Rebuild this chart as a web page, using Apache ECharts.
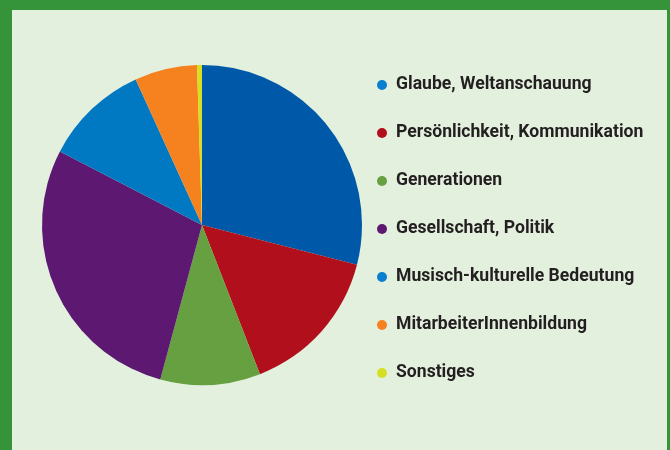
<!DOCTYPE html>
<html>
<head>
<meta charset="utf-8">
<script src="https://cdn.jsdelivr.net/npm/echarts@6/dist/echarts.min.js"></script>
<style>
  html, body { margin: 0; padding: 0; background: #35943a; }
  #chart { width: 670px; height: 450px; }
</style>
</head>
<body>
<div id="chart"></div>
<script>
// Themen und Anteile (in Prozent, aus dem Bild geschätzt)
const themen = [
    'Glaube, Weltanschauung',
    'Persönlichkeit, Kommunikation',
    'Generationen',
    'Gesellschaft, Politik',
    'Musisch-kulturelle Bedeutung',
    'MitarbeiterInnenbildung',
    'Sonstiges'
];
const anteile = [29.0, 15.1, 10.1, 28.4, 10.6, 6.3, 0.5];
const farben = ['#0059a8', '#b10f1b', '#66a040', '#5d1971', '#0079c2', '#f5821f', '#d7df23'];
const legendenFarben = ['#0a7fcf', '#b10f1b', '#66a040', '#5d1971', '#0a7fcf', '#f5821f', '#d7df23'];

const initChart = () => {
    const chart = echarts.init(document.getElementById('chart'));
    chart.setOption({
        backgroundColor: '#35943a',
        animation: false,
        graphic: [
            {
                type: 'rect',
                z: -10,
                shape: { x: 12, y: 10, width: 655, height: 440 },
                style: { fill: '#e3f0de' }
            }
        ],
        legend: {
            orient: 'vertical',
            left: 377,
            top: 75,
            padding: 0,
            itemWidth: 10,
            itemHeight: 10,
            itemGap: 28,
            icon: 'circle',
            textStyle: {
                fontFamily: 'Roboto',
                fontWeight: 'bold',
                fontSize: 17.6,
                lineHeight: 20,
                color: '#231f20',
                padding: [0, 0, 0, 4]
            },
            data: themen.map((t, i) => ({ name: t, itemStyle: { color: legendenFarben[i] } }))
        },
        series: [
            {
                type: 'pie',
                center: [202, 225],
                radius: 160,
                startAngle: 90,
                clockwise: true,
                label: { show: false },
                labelLine: { show: false },
                emphasis: { disabled: true },
                itemStyle: { borderWidth: 0 },
                data: themen.map((t, i) => ({
                    name: t,
                    value: anteile[i],
                    itemStyle: { color: farben[i] }
                }))
            }
        ]
    });
};

window.addEventListener('load', () => {
    initChart();
});
</script>
</body>
</html>
